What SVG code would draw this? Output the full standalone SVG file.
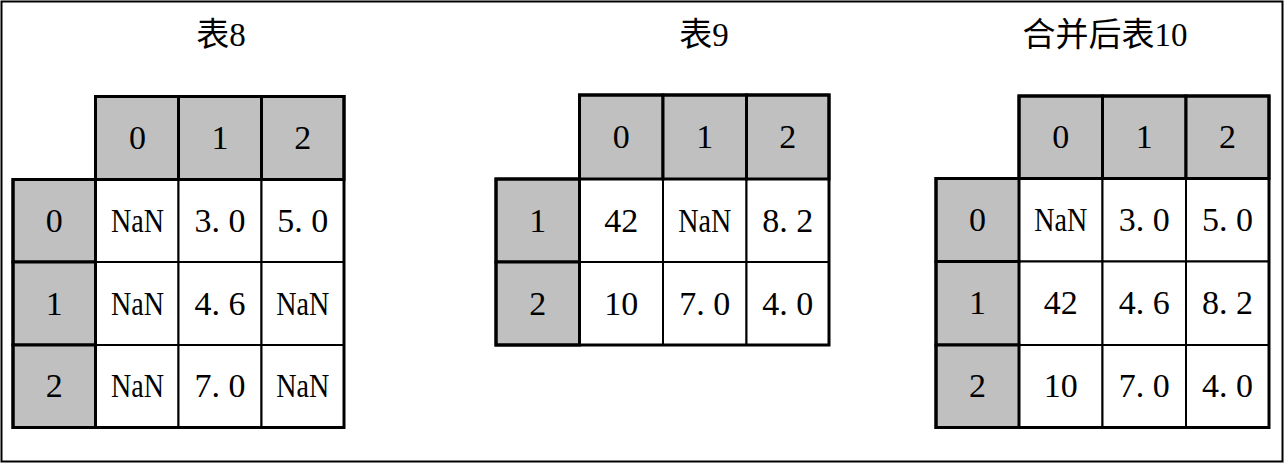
<svg xmlns="http://www.w3.org/2000/svg" width="1285" height="463" viewBox="0 0 1285 463">
<style>
.frame{fill:#fff;stroke:#000;stroke-width:2}
.hd{fill:#c0c0c0;stroke:#000;stroke-width:3}
.dc{fill:#fff;stroke:#000;stroke-width:2}
.edge{fill:none;stroke:#000;stroke-width:3}
.t{font-family:"Liberation Serif","Noto Sans CJK SC",serif;font-size:34px;fill:#000;text-anchor:middle}
.title{font-family:"Liberation Serif","Noto Sans CJK SC",serif;font-size:33px;fill:#000;text-anchor:middle}
</style>
<rect class="frame" x="1.5" y="1.5" width="1281" height="460"/>
<g id="connectors"/>
<g id="table8">
<text class="title" x="221" y="46">表8</text>
<rect class="dc" x="95.5" y="179.5" width="83" height="82.5"/>
<rect class="dc" x="178.5" y="179.5" width="83" height="82.5"/>
<rect class="dc" x="261.5" y="179.5" width="82.5" height="82.5"/>
<rect class="dc" x="95.5" y="262" width="83" height="83"/>
<rect class="dc" x="178.5" y="262" width="83" height="83"/>
<rect class="dc" x="261.5" y="262" width="82.5" height="83"/>
<rect class="dc" x="95.5" y="345" width="83" height="82.5"/>
<rect class="dc" x="178.5" y="345" width="83" height="82.5"/>
<rect class="dc" x="261.5" y="345" width="82.5" height="82.5"/>
<rect class="hd" x="95.5" y="96.5" width="83" height="83"/>
<rect class="hd" x="178.5" y="96.5" width="83" height="83"/>
<rect class="hd" x="261.5" y="96.5" width="82.5" height="83"/>
<rect class="hd" x="13" y="179.5" width="82.5" height="82.5"/>
<rect class="hd" x="13" y="262" width="82.5" height="83"/>
<rect class="hd" x="13" y="345" width="82.5" height="82.5"/>
<path class="edge" d="M95.5 96.5H344V427.5H13V179.5H95.5Z"/>
<text class="t" x="137.5" y="149">0</text>
<text class="t" x="220" y="149">1</text>
<text class="t" x="302.75" y="149">2</text>
<text class="t" x="54.25" y="231.5">0</text>
<text class="t" x="54.25" y="314.5">1</text>
<text class="t" x="54.25" y="397">2</text>
<text class="t" x="137.5" y="231.5" textLength="53" lengthAdjust="spacingAndGlyphs">NaN</text>
<text class="t" x="220" y="231.5">3. 0</text>
<text class="t" x="302.75" y="231.5">5. 0</text>
<text class="t" x="137.5" y="314.5" textLength="53" lengthAdjust="spacingAndGlyphs">NaN</text>
<text class="t" x="220" y="314.5">4. 6</text>
<text class="t" x="302.75" y="314.5" textLength="53" lengthAdjust="spacingAndGlyphs">NaN</text>
<text class="t" x="137.5" y="397" textLength="53" lengthAdjust="spacingAndGlyphs">NaN</text>
<text class="t" x="220" y="397">7. 0</text>
<text class="t" x="302.75" y="397" textLength="53" lengthAdjust="spacingAndGlyphs">NaN</text>
</g>
<g id="table9">
<text class="title" x="704" y="46">表9</text>
<rect class="dc" x="579.5" y="179" width="83.5" height="83"/>
<rect class="dc" x="663" y="179" width="83.5" height="83"/>
<rect class="dc" x="746.5" y="179" width="82.5" height="83"/>
<rect class="dc" x="579.5" y="262" width="83.5" height="83"/>
<rect class="dc" x="663" y="262" width="83.5" height="83"/>
<rect class="dc" x="746.5" y="262" width="82.5" height="83"/>
<rect class="hd" x="579.5" y="95" width="83.5" height="84"/>
<rect class="hd" x="663" y="95" width="83.5" height="84"/>
<rect class="hd" x="746.5" y="95" width="82.5" height="84"/>
<rect class="hd" x="496" y="179" width="83.5" height="83"/>
<rect class="hd" x="496" y="262" width="83.5" height="83"/>
<path class="edge" d="M579.5 95H829V345H496V179H579.5Z"/>
<text class="t" x="621.25" y="148">0</text>
<text class="t" x="704.75" y="148">1</text>
<text class="t" x="787.75" y="148">2</text>
<text class="t" x="537.75" y="231.5">1</text>
<text class="t" x="537.75" y="314.5">2</text>
<text class="t" x="621.25" y="231.5">42</text>
<text class="t" x="704.75" y="231.5" textLength="53" lengthAdjust="spacingAndGlyphs">NaN</text>
<text class="t" x="787.75" y="231.5">8. 2</text>
<text class="t" x="621.25" y="314.5">10</text>
<text class="t" x="704.75" y="314.5">7. 0</text>
<text class="t" x="787.75" y="314.5">4. 0</text>
</g>
<g id="table10">
<text class="title" x="1105" y="46">合并后表10</text>
<rect class="dc" x="1019" y="178.5" width="83.5" height="83"/>
<rect class="dc" x="1102.5" y="178.5" width="83.5" height="83"/>
<rect class="dc" x="1186" y="178.5" width="83" height="83"/>
<rect class="dc" x="1019" y="261.5" width="83.5" height="83.5"/>
<rect class="dc" x="1102.5" y="261.5" width="83.5" height="83.5"/>
<rect class="dc" x="1186" y="261.5" width="83" height="83.5"/>
<rect class="dc" x="1019" y="345" width="83.5" height="82.5"/>
<rect class="dc" x="1102.5" y="345" width="83.5" height="82.5"/>
<rect class="dc" x="1186" y="345" width="83" height="82.5"/>
<rect class="hd" x="1019" y="96" width="83.5" height="82.5"/>
<rect class="hd" x="1102.5" y="96" width="83.5" height="82.5"/>
<rect class="hd" x="1186" y="96" width="83" height="82.5"/>
<rect class="hd" x="936" y="178.5" width="83" height="83"/>
<rect class="hd" x="936" y="261.5" width="83" height="83.5"/>
<rect class="hd" x="936" y="345" width="83" height="82.5"/>
<path class="edge" d="M1019 96H1269V427.5H936V178.5H1019Z"/>
<text class="t" x="1060.75" y="148">0</text>
<text class="t" x="1144.25" y="148">1</text>
<text class="t" x="1227.5" y="148">2</text>
<text class="t" x="977.5" y="231">0</text>
<text class="t" x="977.5" y="314">1</text>
<text class="t" x="977.5" y="397">2</text>
<text class="t" x="1060.75" y="231" textLength="53" lengthAdjust="spacingAndGlyphs">NaN</text>
<text class="t" x="1144.25" y="231">3. 0</text>
<text class="t" x="1227.5" y="231">5. 0</text>
<text class="t" x="1060.75" y="314">42</text>
<text class="t" x="1144.25" y="314">4. 6</text>
<text class="t" x="1227.5" y="314">8. 2</text>
<text class="t" x="1060.75" y="397">10</text>
<text class="t" x="1144.25" y="397">7. 0</text>
<text class="t" x="1227.5" y="397">4. 0</text>
</g>
</svg>
